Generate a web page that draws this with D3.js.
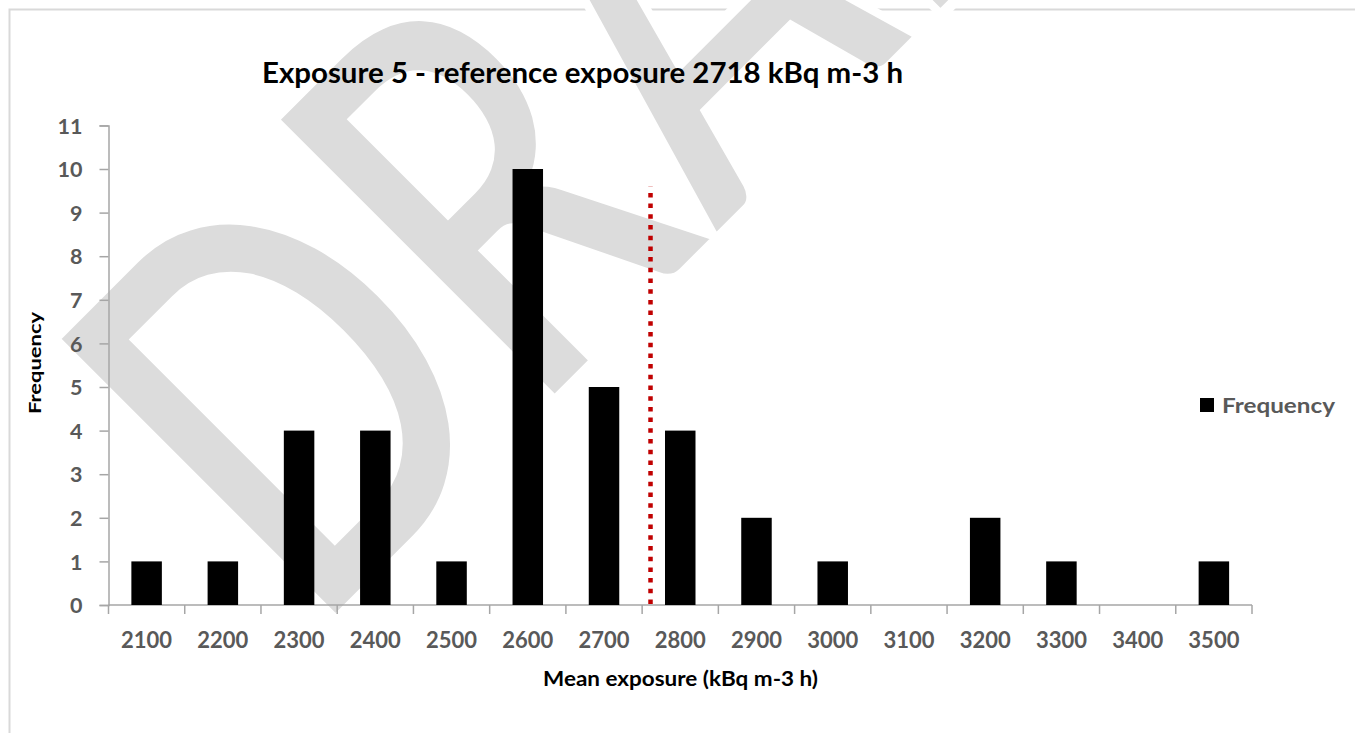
<!DOCTYPE html>
<html>
<head>
<meta charset="utf-8">
<script src="https://cdn.jsdelivr.net/npm/d3@7"></script>
<style>
    body { margin: 0; background: #fff; }
    text { font-family: Lato, "Open Sans", sans-serif; font-weight: bold; }
</style>
</head>
<body>
<svg id="chart"></svg>
<script>
const categories = ["2100", "2200", "2300", "2400", "2500", "2600", "2700", "2800", "2900", "3000", "3100", "3200", "3300", "3400", "3500"];
const frequency = [1, 1, 4, 4, 1, 10, 5, 4, 2, 1, 0, 2, 1, 0, 1];
const yTicks = [0, 1, 2, 3, 4, 5, 6, 7, 8, 9, 10, 11];
const binEdges = [2000, 3500];       // bins labelled by their upper edge
const refExposure = 2711;            // where the dotted line sits in the picture
const refLineTop = 9.6;
const titleText = "Exposure 5 - reference exposure 2718 kBq m-3 h";
const xTitle = "Mean exposure (kBq m-3 h)";
const yTitle = "Frequency";
const legendLabel = "Frequency";
const watermark = "DRAFT";

class HistoGraph {
    constructor(id, width, height) {
        this.width = width;
        this.height = height;
        this.svg = d3.select(id).attr("width", width).attr("height", height);
        this.left = 108.5;
        this.right = 1252;
        this.bottom = 605;
        this.top = 125.4;
        this.grey = "#595959";
        this.axisColor = "#a6a6a6";
    }

    drawWatermark() {
        // big diagonal DRAFT (word-art style, squeezed), behind everything
        // white outline thins the strokes a little
        this.svg.append("text")
            .attr("transform", "translate(337,612) rotate(-45) scale(0.74,1)")
            .attr("x", -52)
            .attr("y", 5)
            .attr("font-size", 551)
            .attr("font-weight", "normal")
            .attr("fill", "#dcdcdc")
            .attr("stroke", "#fff")
            .attr("stroke-width", 11)
            .text(watermark);
    }

    draw() {
        const svg = this.svg;

        // outer chart frame
        svg.append("rect")
            .attr("x", 9.5).attr("y", 9.5)
            .attr("width", this.width + 50).attr("height", this.height + 50)
            .attr("fill", "none")
            .attr("stroke", "#d9d9d9")
            .attr("stroke-width", 2);

        this.drawWatermark();

        this.xScale = d3.scaleBand()
            .domain(categories)
            .range([this.left, this.right])
            .paddingInner(0.6)
            .paddingOuter(0.3);
        this.xLinear = d3.scaleLinear().domain(binEdges).range([this.left, this.right]);
        this.yScale = d3.scaleLinear().domain([0, 11]).range([this.bottom, this.top]);

        // y axis
        const yAxis = d3.axisLeft(this.yScale).tickValues(yTicks).tickSize(9).tickPadding(18);
        const gy = svg.append("g").attr("transform", `translate(${this.left},0)`).call(yAxis);
        gy.select(".domain").attr("stroke", this.axisColor).attr("stroke-width", 1.5);
        gy.selectAll(".tick line").attr("stroke", this.axisColor).attr("stroke-width", 1.5);
        gy.selectAll(".tick text")
            .attr("font-family", "Lato, sans-serif")
            .attr("font-weight", "bold")
            .attr("font-size", 21.5)
            .attr("fill", this.grey)
            .attr("dy", "0.36em")
            .attr("x", -26);

        // x axis: ticks on bin boundaries, labels centered in bins
        const edges = d3.range(categories.length + 1).map(i => this.left + i * (this.right - this.left) / categories.length);
        svg.append("line")
            .attr("x1", this.left).attr("x2", this.right)
            .attr("y1", this.bottom).attr("y2", this.bottom)
            .attr("stroke", this.axisColor).attr("stroke-width", 1.5);
        svg.selectAll(".xtick")
            .data(edges).enter()
            .append("line")
            .attr("class", "xtick")
            .attr("x1", d => d).attr("x2", d => d)
            .attr("y1", this.bottom).attr("y2", this.bottom + 9)
            .attr("stroke", this.axisColor).attr("stroke-width", 1.5);
        svg.selectAll(".xlabel")
            .data(categories).enter()
            .append("text")
            .attr("class", "xlabel")
            .attr("x", d => this.xScale(d) + this.xScale.bandwidth() / 2)
            .attr("y", 648)
            .attr("text-anchor", "middle")
            .attr("font-size", 22)
            .attr("fill", this.grey)
            .text(d => d);

        // bars
        svg.selectAll(".bar")
            .data(frequency).enter()
            .append("rect")
            .attr("class", "bar")
            .attr("x", (d, i) => this.xScale(categories[i]))
            .attr("y", d => this.yScale(d))
            .attr("width", this.xScale.bandwidth())
            .attr("height", d => this.bottom - this.yScale(d))
            .attr("fill", "#000");

        // reference exposure line
        svg.append("line")
            .attr("x1", this.xLinear(refExposure)).attr("x2", this.xLinear(refExposure))
            .attr("y1", this.bottom - 1).attr("y2", this.yScale(refLineTop))
            .attr("stroke", "#c00000")
            .attr("stroke-width", 4.5)
            .attr("stroke-dasharray", "4.5,6.2");

        // titles
        svg.append("text")
            .attr("x", 262).attr("y", 83)
            .attr("font-size", 28)
            .attr("fill", "#000")
            .attr("textLength", 641)
            .attr("lengthAdjust", "spacingAndGlyphs")
            .text(titleText);

        svg.append("text")
            .attr("x", 543).attr("y", 686)
            .attr("font-size", 20)
            .attr("fill", "#000")
            .attr("textLength", 275)
            .attr("lengthAdjust", "spacingAndGlyphs")
            .text(xTitle);

        svg.append("text")
            .attr("transform", "translate(41,414) rotate(-90)")
            .attr("font-family", "DejaVu Sans, sans-serif")
            .attr("font-size", 17)
            .attr("fill", "#000")
            .attr("textLength", 102)
            .attr("lengthAdjust", "spacingAndGlyphs")
            .text(yTitle);

        // legend
        svg.append("rect")
            .attr("x", 1200).attr("y", 398)
            .attr("width", 14).attr("height", 14)
            .attr("fill", "#000");
        svg.append("text")
            .attr("x", 1222).attr("y", 413)
            .attr("font-size", 21)
            .attr("fill", this.grey)
            .attr("textLength", 113)
            .attr("lengthAdjust", "spacingAndGlyphs")
            .text(legendLabel);
    }
}

const chart = new HistoGraph("#chart", 1355, 733);
chart.draw();
</script>
</body>
</html>
